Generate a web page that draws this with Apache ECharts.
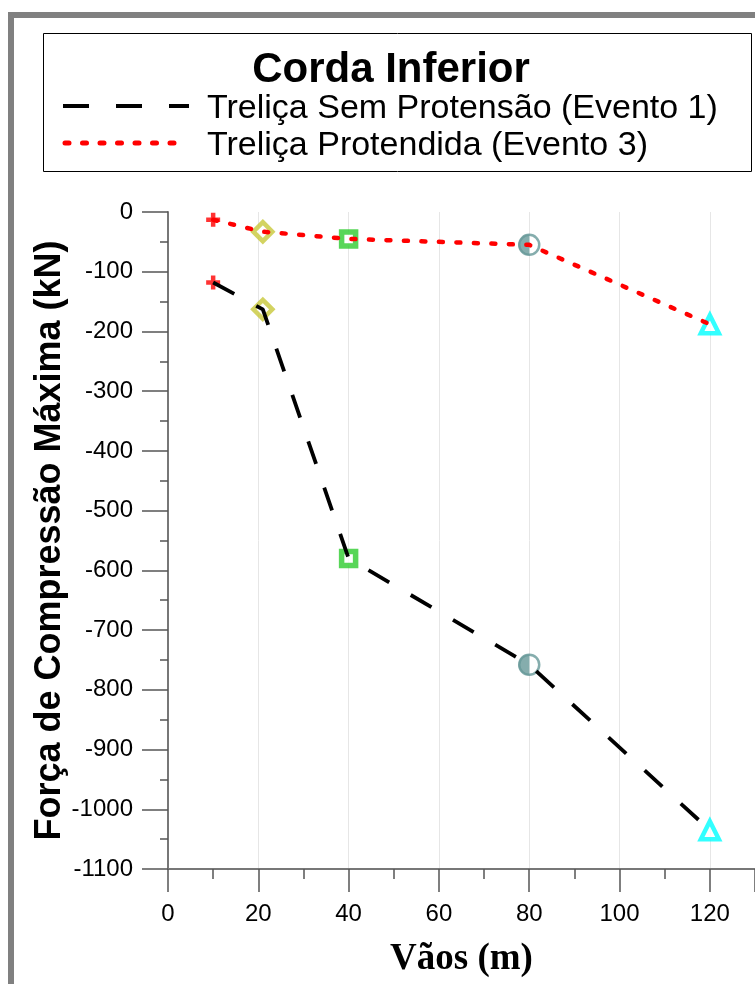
<!DOCTYPE html>
<html><head><meta charset="utf-8">
<script src="https://cdn.jsdelivr.net/npm/echarts@6/dist/echarts.min.js"></script>
<style>html,body{margin:0;padding:0;background:#fff}#c{width:755px;height:984px}</style>
</head><body><div id="c"></div>
<script>
const vaos = [10, 21, 40, 80, 120];
const semProtensao = [-118, -163, -580, -758, -1035];
const protendida = [-13, -33, -45, -55, -188];
const xTicks = [0, 20, 40, 60, 80, 100, 120];
const seriesNames = ['Treliça Sem Protensão (Evento 1)', 'Treliça Protendida (Evento 3)'];
const legendTitle = 'Corda Inferior';

const chart = echarts.init(document.getElementById('c'));
const plus = 'path://M3.4,0 H6.6 V3.4 H10 V6.6 H6.6 V10 H3.4 V6.6 H0 V3.4 H3.4 Z';
const halfLeft = 'path://M50,0 A50,50 0 0,0 50,100 Z';
const markerStyles = [
  {symbol: plus, symbolSize: 14, itemStyle: {color: '#ff0000', borderWidth: 0}},
  {symbol: 'diamond', symbolSize: 19, itemStyle: {color: '#ffffff', borderColor: '#c8c83a', borderWidth: 4.5}},
  {symbol: 'rect', symbolSize: 14, itemStyle: {color: '#ffffff', borderColor: '#2ecc2e', borderWidth: 5.5}},
  {symbol: 'circle', symbolSize: 20, itemStyle: {color: '#ffffff', borderColor: '#669999', borderWidth: 2.5}},
  {symbol: 'triangle', symbolSize: 18, itemStyle: {color: '#ffffff', borderColor: '#00ffff', borderWidth: 4.5}}
];
function markerData(vals){
  return vals.map((v,i)=>Object.assign({value:[vaos[i], v]}, markerStyles[i]));
}
function halfData(vals){
  return vals.map((v,i)=> i===3 ? {value:[vaos[i], v]} : {value:[vaos[i], v], symbolSize: 0});
}
const series = [];
[semProtensao, protendida].forEach(vals=>{
  series.push({type:'scatter', data: markerData(vals), z:1, silent:true});
  series.push({type:'scatter', data: halfData(vals), symbol: halfLeft, symbolSize:[11,21], symbolKeepAspect:false, symbolOffset:[-5.25,0], itemStyle:{color:'#669999'}, z:1, silent:true});
});
series.push({name: seriesNames[0], type:'line', data: vaos.map((x,i)=>[x, semProtensao[i]]), showSymbol:false, symbol:'none', z:3,
  lineStyle:{color:'#000', width:3.8, type:[24,25], cap:'butt'}, itemStyle:{color:'#000'}});
series.push({name: seriesNames[1], type:'line', data: vaos.map((x,i)=>[x, protendida[i]]), showSymbol:false, symbol:'none', z:3,
  lineStyle:{color:'#ff0000', width:4.5, type:[4,13.5], cap:'round'}, itemStyle:{color:'#ff0000'}});

chart.setOption({
  animation:false,
  backgroundColor:'#fff',
  graphic:[
    {type:'rect', shape:{x:11, y:15, width:800, height:1000}, style:{fill:'none', stroke:'#808080', lineWidth:6}, z:0},
    {type:'rect', shape:{x:43.5, y:33.5, width:708, height:138}, style:{fill:'#fff', stroke:'#000', lineWidth:1}, z:1},
    {type:'text', x:391, y:70, z:2, style:{text:legendTitle, font:'bold 42px "Liberation Sans", Arial', align:'center', verticalAlign:'middle', fill:'#000'}},
    {type:'line', z:2, shape:{x1:63, y1:106, x2:189, y2:106}, style:{stroke:'#000', lineWidth:4, lineDash:[26,27]}},
    {type:'text', x:207, y:109, z:2, style:{text:seriesNames[0], font:'34px "Liberation Sans", Arial', fill:'#000', verticalAlign:'middle'}},
    {type:'line', z:2, shape:{x1:65, y1:143, x2:175, y2:143}, style:{stroke:'#ff0000', lineWidth:5, lineDash:[4,13.5], lineCap:'round'}},
    {type:'text', x:207, y:146, z:2, style:{text:seriesNames[1], font:'34px "Liberation Sans", Arial', fill:'#000', verticalAlign:'middle'}}
  ],
  grid:{left:168, right:-2, top:212, bottom:115, containLabel:false},
  xAxis:{type:'value', min:0, max:130, interval:20, name:'Vãos (m)', nameLocation:'middle', nameGap:72, nameMoveOverlap:false,
    nameTextStyle:{fontFamily:'Liberation Serif, Times New Roman', fontSize:37, fontWeight:'bold', color:'#000'},
    axisLine:{onZero:false, lineStyle:{color:'#777', width:2}},
    axisTick:{show:true, length:23, lineStyle:{color:'#555', width:1.5}},
    minorTick:{show:true, splitNumber:2, length:10, lineStyle:{color:'#555', width:1.5}},
    axisLabel:{margin:33, fontFamily:'Liberation Sans, Arial', fontSize:24, color:'#000', showMaxLabel:false,
      formatter: v => xTicks.includes(v) ? String(v) : ''},
    splitLine:{show:true, lineStyle:{color:'#e6e6e6', width:1}}},
  yAxis:{type:'value', min:-1100, max:0, interval:100, name:'Força de Compressão Máxima (kN)', nameLocation:'middle', nameGap:100, nameMoveOverlap:false,
    nameTextStyle:{fontFamily:'Liberation Sans, Arial', fontSize:36, fontWeight:'bold', color:'#000'},
    axisLine:{show:true, onZero:false, lineStyle:{color:'#777', width:2}},
    axisTick:{show:true, length:26, lineStyle:{color:'#555', width:1.5}},
    minorTick:{show:true, splitNumber:2, length:8, lineStyle:{color:'#555', width:1.5}},
    axisLabel:{margin:35, fontFamily:'Liberation Sans, Arial', fontSize:24, color:'#000', formatter: v => String(v)},
    splitLine:{show:false}},
  series: series
});
</script></body></html>
